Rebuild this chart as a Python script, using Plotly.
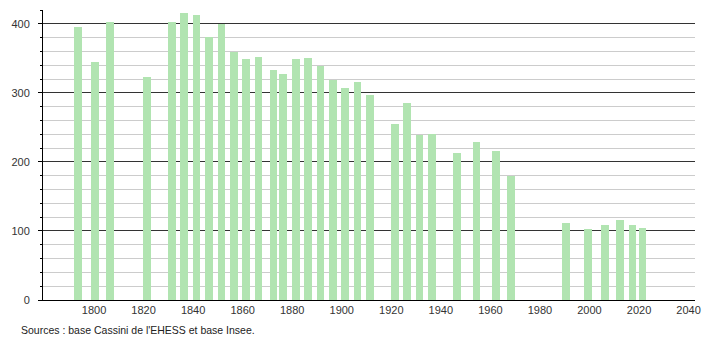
import plotly.graph_objects as go

years = [1793, 1800, 1806, 1821, 1831, 1836, 1841, 1846, 1851, 1856, 1861, 1866,
         1872, 1876, 1881, 1886, 1891, 1896, 1901, 1906, 1911, 1921, 1926, 1931,
         1936, 1946, 1954, 1962, 1968, 1990, 1999, 2006, 2012, 2017, 2021]
population = [396, 345, 403, 323, 403, 415, 413, 381, 400, 359, 349, 352,
              333, 328, 349, 351, 339, 319, 307, 316, 297, 255, 285, 239,
              241, 213, 229, 216, 180, 112, 103, 108, 116, 108, 105]

x_ticks = [1800, 1820, 1840, 1860, 1880, 1900, 1920, 1940, 1960, 1980, 2000, 2020, 2040]
y_ticks = [0, 100, 200, 300, 400]
source_text = "Sources : base Cassini de l'EHESS et base Insee."

bar_color = "#b1e4b1"

fig = go.Figure()
fig.add_trace(go.Bar(
    x=years, y=population, width=3.1, offset=-1.15,
    marker=dict(color=bar_color, line=dict(width=0)),
    hoverinfo="x+y",
))

fig.update_layout(
    width=710, height=340,
    margin=dict(l=43, r=9, t=10, b=40),
    paper_bgcolor="white", plot_bgcolor="white",
    showlegend=False,
    font=dict(family="Liberation Sans, Arial, sans-serif", size=11, color="#333333"),
    bargap=0,
)

fig.update_xaxes(
    range=[1779.4, 2042.6],
    tickvals=x_ticks, ticktext=[str(v) for v in x_ticks],
    showgrid=False, zeroline=False,
    showline=True, linecolor="black", linewidth=1,
    ticks="", tickfont=dict(size=11, color="#333333"),
)

fig.update_yaxes(
    range=[0, 420],
    tickvals=y_ticks, ticktext=[str(v) for v in y_ticks],
    showgrid=True, gridcolor="#333333", gridwidth=1,
    zeroline=False,
    showline=True, linecolor="black", linewidth=1,
    ticks="outside", ticklen=4, tickcolor="black",
    ticklabelstandoff=6,
    tickfont=dict(size=11, color="#333333"),
    minor=dict(dtick=20, showgrid=True, gridcolor="#cccccc", gridwidth=1,
               ticks="outside", ticklen=2, tickcolor="black"),
)

fig.add_annotation(
    text=source_text, xref="paper", yref="paper",
    x=(19 - 43) / 658, y=-(330 - 300) / 290,
    xanchor="left", yanchor="middle", showarrow=False,
    font=dict(size=10.5, color="#222222"),
)

fig.write_html("out.html")
